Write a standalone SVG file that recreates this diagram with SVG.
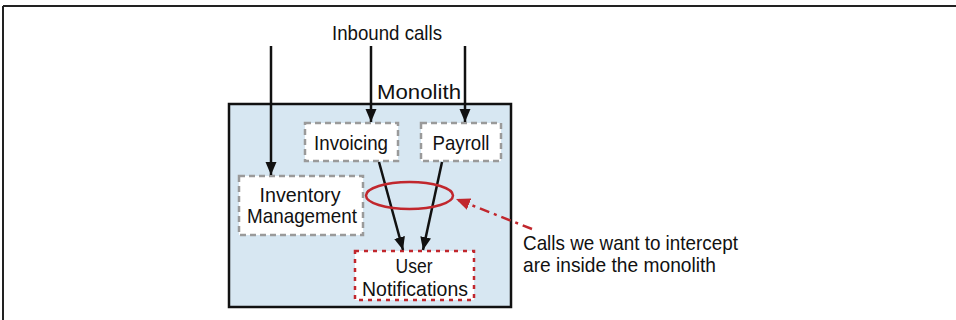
<svg xmlns="http://www.w3.org/2000/svg" width="956" height="320" viewBox="0 0 956 320">
<style>
text{font-family:"Liberation Sans",Arial,sans-serif;font-size:21px;fill:#111}
.node{fill:#fff;stroke:#9a9a9a;stroke-width:2.5;stroke-dasharray:6 4}
.red{fill:#fff;stroke:#c1272d;stroke-width:2.5;stroke-dasharray:4 5}
.conn{stroke:#111;stroke-width:2.5;fill:none}
</style>
<defs>
<marker id="ah" viewBox="0 0 13 12" refX="13" refY="6" markerWidth="13" markerHeight="12" markerUnits="userSpaceOnUse" orient="auto">
<path d="M0,0.5 L13,6 L0,11.5 Z" fill="#111"/>
</marker>
<marker id="ahr" viewBox="0 0 14 14" refX="14" refY="7" markerWidth="14" markerHeight="14" markerUnits="userSpaceOnUse" orient="auto">
<path d="M0,1 L14,7 L0,13 Z" fill="#c1272d"/>
</marker>
</defs>
<g id="frame">
<line x1="3" y1="6" x2="956" y2="6" stroke="#222" stroke-width="2"/>
<line x1="3" y1="6" x2="3" y2="320" stroke="#222" stroke-width="2"/>
</g>
<g id="monolith">
<rect x="229" y="104" width="282" height="203" fill="#d7e7f2" stroke="#111" stroke-width="2.5"/>
<text x="419" y="99" text-anchor="middle" textLength="84" lengthAdjust="spacingAndGlyphs">Monolith</text>
</g>
<text x="387" y="40" text-anchor="middle" textLength="110" lengthAdjust="spacingAndGlyphs">Inbound calls</text>
<g id="invoicing">
<rect class="node" x="305" y="123" width="93" height="38"/>
<text x="351" y="150" text-anchor="middle" textLength="74" lengthAdjust="spacingAndGlyphs">Invoicing</text>
</g>
<g id="payroll">
<rect class="node" x="421" y="123" width="80" height="38"/>
<text x="461" y="150" text-anchor="middle" textLength="57" lengthAdjust="spacingAndGlyphs">Payroll</text>
</g>
<g id="inventory">
<rect class="node" x="239" y="176" width="124" height="59"/>
<text x="300" y="202" text-anchor="middle" textLength="81" lengthAdjust="spacingAndGlyphs">Inventory</text>
<text x="302" y="223" text-anchor="middle" textLength="110" lengthAdjust="spacingAndGlyphs">Management</text>
</g>
<g id="notifications">
<rect class="red" x="355" y="251" width="119" height="49"/>
<text x="414" y="273" text-anchor="middle" textLength="37" lengthAdjust="spacingAndGlyphs">User</text>
<text x="415" y="296" text-anchor="middle" textLength="106" lengthAdjust="spacingAndGlyphs">Notifications</text>
</g>
<g id="connectors">
<line class="conn" x1="271" y1="46" x2="271" y2="175" marker-end="url(#ah)"/>
<line class="conn" x1="371" y1="46" x2="371" y2="122" marker-end="url(#ah)"/>
<line class="conn" x1="465" y1="46" x2="465" y2="122" marker-end="url(#ah)"/>
<line class="conn" x1="379" y1="162" x2="403" y2="250" marker-end="url(#ah)"/>
<line class="conn" x1="442" y1="162" x2="423" y2="250" marker-end="url(#ah)"/>
</g>
<g id="callout">
<ellipse cx="409.5" cy="195.5" rx="43.5" ry="13.5" fill="none" stroke="#c1272d" stroke-width="2.5"/>
<line x1="532" y1="229" x2="456" y2="199" stroke="#c1272d" stroke-width="2.5" stroke-dasharray="10 5 3 5" marker-end="url(#ahr)"/>
<text x="523" y="250" textLength="215" lengthAdjust="spacingAndGlyphs">Calls we want to intercept</text>
<text x="523" y="272" textLength="193" lengthAdjust="spacingAndGlyphs">are inside the monolith</text>
</g>
</svg>
